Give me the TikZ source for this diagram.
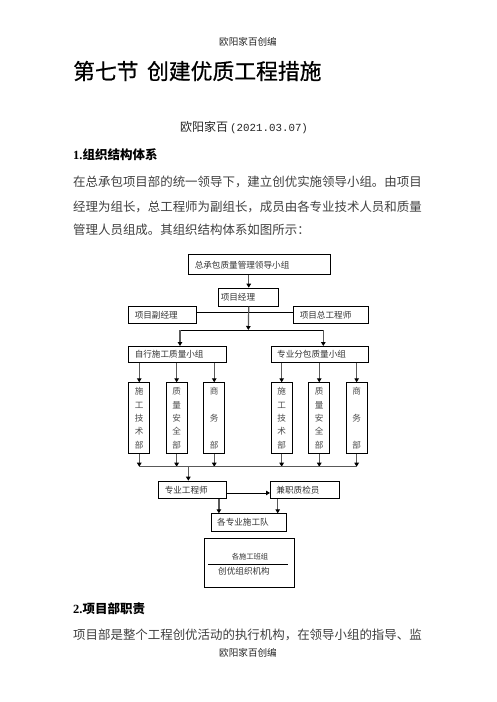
\documentclass[tikz,border=0pt]{standalone}
\usepackage{fontspec}
\setmainfont{Liberation Serif}
\newfontfamily\cjk{Noto Sans CJK SC}
\newfontfamily\cjkt[FakeBold=0.6]{Noto Sans CJK SC}
\newfontfamily\monof{Liberation Mono}
\usetikzlibrary{arrows.meta}
\begin{document}
\begin{tikzpicture}[x=1pt,y=-1pt,
  box/.style={draw, line width=0.9pt, inner xsep=6pt, inner ysep=0pt, anchor=north west,
    align=left, font=\cjk\fontsize{8.6}{10}\selectfont, text=black!80},
  vbox/.style={draw, line width=0.9pt, inner sep=0pt, anchor=north west,
    minimum width=21pt, minimum height=71pt, align=center,
    font=\cjk\fontsize{8.6}{13.3}\selectfont, text=black!70},
  conn/.style={line width=1.2pt, draw=black!65},
  hconn/.style={line width=0.8pt, draw=black},
  arr/.style={-{Triangle[length=4pt,width=4.5pt,color=black]}},
  body/.style={anchor=west, inner sep=0pt, font=\cjk\fontsize{12.45}{14}\selectfont, text=black!75},
  head/.style={anchor=west, inner sep=0pt, font=\bfseries\fontsize{12.5}{14}\selectfont}
]
\useasboundingbox[fill=white] (0,0) rectangle (496,702);

% page texts
\node[inner sep=0pt, font=\cjk\fontsize{9.6}{11}\selectfont, text=black!85] (hdr) at (248,41.7) {欧阳家百创编};
\node[anchor=west, inner sep=0pt, font=\cjkt\fontsize{21.8}{24}\selectfont] (title) at (73,71) {第七节\hspace{8.5pt}创建优质工程措施};
\node[anchor=west, inner sep=0pt, font=\fontsize{12}{14}\selectfont, text=black!85] (auth) at (180,127.7) {{\cjk 欧阳家百}\hspace{2pt}{\monof\fontsize{10.8}{14}\selectfont(2021.03.07)}};
\node[head] (h1) at (73,155) {1.{\cjk\bfseries 组织结构体系}};
\node[body] (p1) at (73,181.7) {在总承包项目部的统一领导下，建立创优实施领导小组。由项目};
\node[body] (p2) at (73,206.7) {经理为组长，总工程师为副组长，成员由各专业技术人员和质量};
\node[body] (p3) at (73,230) {管理人员组成。其组织结构体系如图所示：};
\node[head] (h2) at (73,609) {2.{\cjk\bfseries 项目部职责}};
\node[body] (p4) at (73,635) {项目部是整个工程创优活动的执行机构，在领导小组的指导、监};
\node[inner sep=0pt, font=\cjk\fontsize{9.6}{11}\selectfont, text=black!85] (ftr) at (248,652.7) {欧阳家百创编};

% diagram boxes
\node[box, text width=129.7pt, minimum height=20pt] (top) at (188.3,254.3) {总承包质量管理领导小组};
\node[box, inner xsep=2pt, text width=56pt, minimum height=18pt] (pm) at (218.3,287.7) {项目经理};
\node[box, text width=55.7pt, minimum height=17.6pt] (vpm) at (128.3,305.7) {项目副经理};
\node[box, text width=63pt, minimum height=17.6pt] (chief) at (293.3,305.7) {项目总工程师};
\node[box, text width=85.7pt, minimum height=15.7pt] (g1) at (128.3,346) {自行施工质量小组};
\node[box, text width=85.7pt, minimum height=15.7pt] (g2) at (270.7,346) {专业分包质量小组};

\node[vbox] (v1) at (128.3,382.3) {施\\工\\技\\术\\部};
\node[vbox] (v2) at (165.7,382.3) {质\\量\\安\\全\\部};
\node[vbox] (v3) at (203.3,382.3) {商\\\\务\\\\部};
\node[vbox] (v4) at (270.7,382.3) {施\\工\\技\\术\\部};
\node[vbox] (v5) at (308.3,382.3) {质\\量\\安\\全\\部};
\node[vbox] (v6) at (345.7,382.3) {商\\\\务\\\\部};

\node[box, text width=55.7pt, minimum height=17.6pt] (eng) at (158.3,480.7) {专业工程师};
\node[box, text width=57pt, minimum height=17.6pt] (insp) at (270,480.7) {兼职质检员};
\node[box, text width=63pt, minimum height=17.7pt] (team) at (210.7,513.3) {各专业施工队};

\node[draw, line width=0.9pt, anchor=north west, minimum width=90pt, minimum height=48.4pt, inner sep=0pt] (leg) at (204,538.3) {};
\node[inner sep=0pt, font=\cjk\fontsize{7.3}{9}\selectfont, text=black!80] (legt) at (250,556.7) {各施工班组};
\node[anchor=west, inner sep=0pt, font=\cjk\fontsize{8.6}{10}\selectfont, text=black!80] (legb) at (218,571) {创优组织机构};
\coordinate (ll) at (208.3,564.3);
\coordinate (lr) at (287.7,564.3);
\draw[line width=0.8pt] (ll) -- (lr);

% connectors
\draw[conn, arr] (pm.north |- top.south) -- (pm.north);
\draw[hconn] ([yshift=3pt]vpm.east) -- ([yshift=3pt]chief.west);
\coordinate (b1) at (248.3,330);
\coordinate (b1l) at (180,330);
\coordinate (b1r) at (323.3,330);
\draw[conn, arr] (pm.south) -- (b1);
\draw[hconn] (b1l) -- (b1r);
\draw[conn, arr] (b1l) -- (b1l |- g1.north);
\draw[conn, arr] (b1r) -- (b1r |- g2.north);

\foreach \v in {v1,v2,v3} \draw[conn, arr] (\v.north |- g1.south) -- (\v.north);
\foreach \v in {v4,v5,v6} \draw[conn, arr] (\v.north |- g2.south) -- (\v.north);

\coordinate (b2) at (188.3,466.7);
\foreach \v in {v1,v2,v3,v4,v5,v6} \draw[conn, arr] (\v.south) -- (\v.south |- b2);
\draw[conn, line width=1pt] (v1.south |- b2) -- (v6.south |- b2);
\draw[conn, arr] (b2) -- (b2 |- eng.north);

\draw[hconn, arr] ([yshift=-3pt]eng.east) -- ([yshift=-3pt]eng.east -| insp.west);
\draw[conn, arr] ([xshift=-8pt]eng.south east) -- ([xshift=-8pt]eng.south east |- team.north);
\draw[conn, arr] ([xshift=7.7pt]insp.south west) -- ([xshift=7.7pt]insp.south west |- team.north);
\end{tikzpicture}
\end{document}
